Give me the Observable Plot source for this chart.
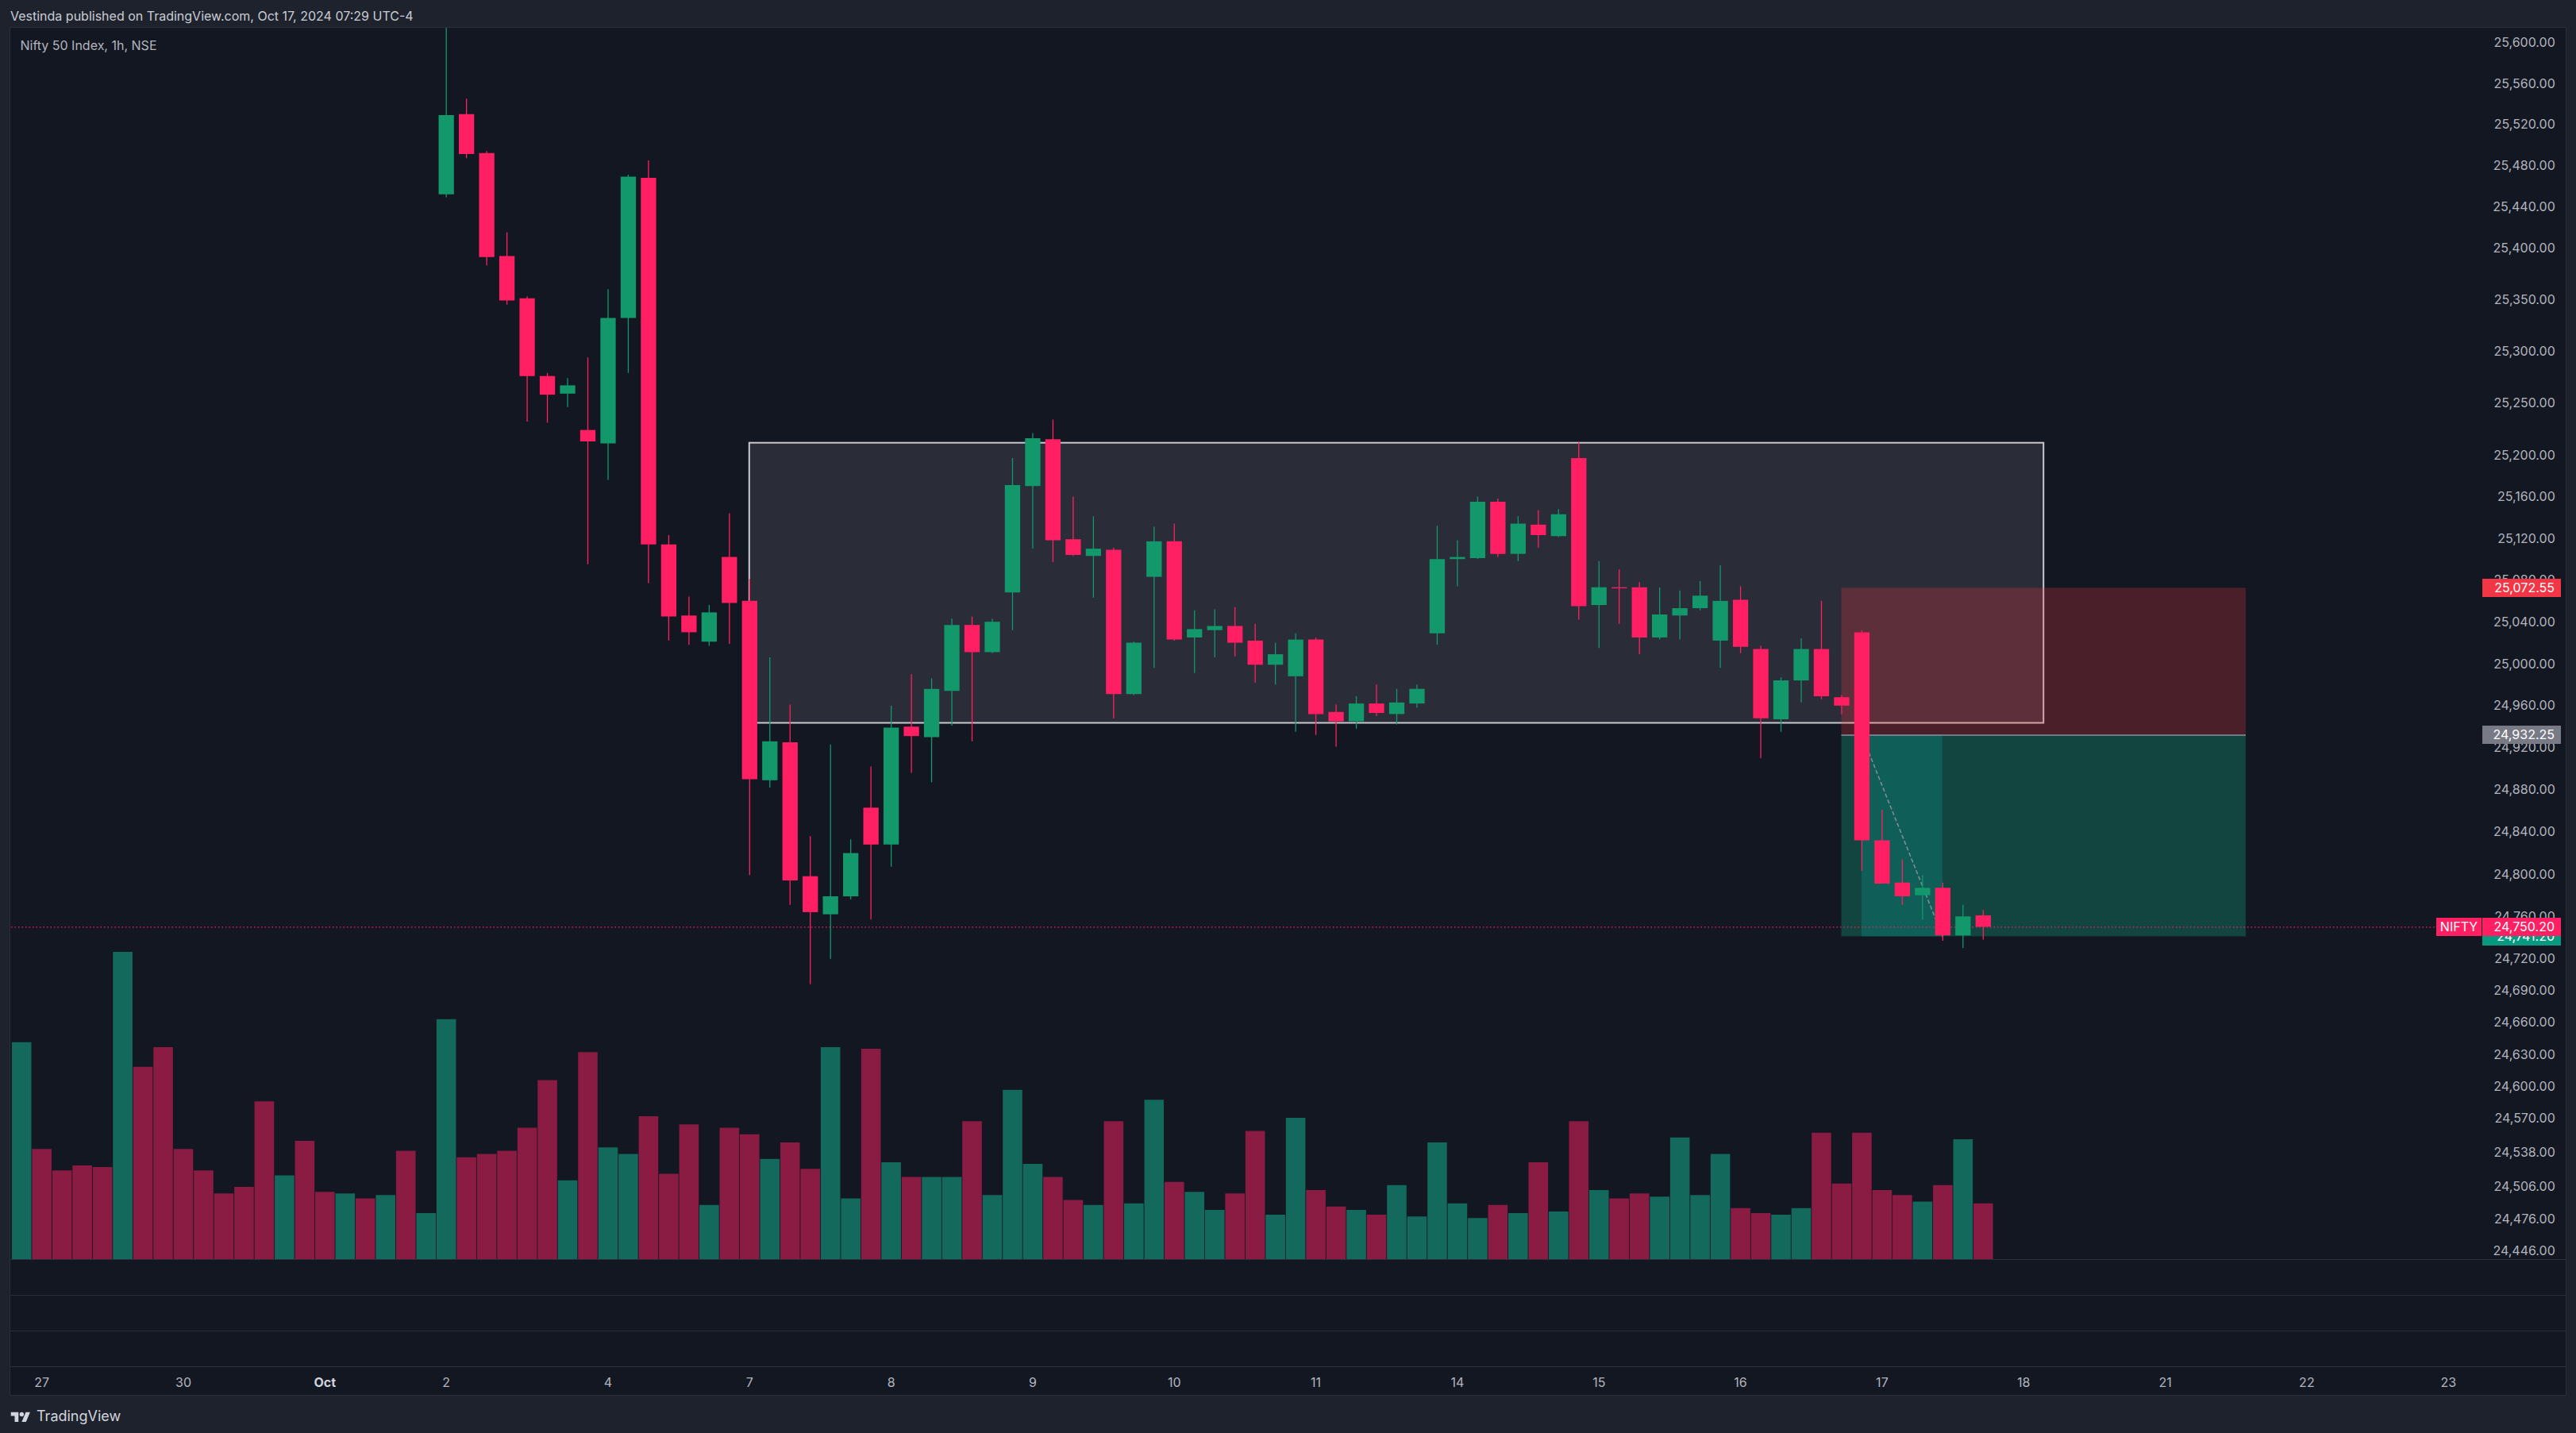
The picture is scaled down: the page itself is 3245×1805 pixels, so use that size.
<!DOCTYPE html>
<html>
<head>
<meta charset="utf-8">
<script src="https://cdn.jsdelivr.net/npm/d3@7"></script>
<script src="https://cdn.jsdelivr.net/npm/@observablehq/plot@0.6"></script>
<style>
  html, body { margin: 0; padding: 0; background: #1e222d; }
  #page { position: relative; width: 3245px; height: 1805px; overflow: hidden; background: #1e222d; font-family: Inter, Roboto, sans-serif; }
  #header { position: absolute; left: 13px; top: 10px; font-size: 16px; color: #c9ccd4; white-space: nowrap; }
  #pane { position: absolute; left: 12px; top: 34px; width: 3221px; height: 1724px; box-sizing: border-box; background: #131722; border: 1px solid #2a2e39; }
  .sep { position: absolute; left: 13px; width: 3219px; height: 1px; background: #2a2e39; }
  .layer { position: absolute; left: 0; top: 35px; }
  .badge { position: absolute; height: 23px; line-height: 23px; font-size: 16px; color: #ffffff; box-sizing: border-box; white-space: nowrap; }
  #footer { position: absolute; left: 13px; top: 1771px; height: 24px; display: flex; align-items: center; gap: 7px; color: #d1d4dc; font-size: 18px; }
</style>
</head>
<body>
<div id="page">
  <div id="header">Vestinda published on TradingView.com, Oct 17, 2024 07:29 UTC-4</div>
  <div id="pane"></div>
  <div class="sep" style="top:1586px"></div>
  <div class="sep" style="top:1631px"></div>
  <div class="sep" style="top:1676px"></div>
  <div class="sep" style="top:1721px"></div>
  <div id="volLayer" class="layer"></div>
  <div id="priceLayer" class="layer"></div>
  <div id="footer">
    <svg width="26" height="15" viewBox="0 0 36 22"><path d="M14 22H7V11H0V4h14v18zM28 22h-8l7.5-18h8L28 22z" fill="#d1d4dc"/><circle cx="20" cy="8" r="4" fill="#d1d4dc"/></svg>
    <span>TradingView</span>
  </div>
</div>
<script>
// ---------- data ----------
const chartTitle = "Nifty 50 Index, 1h, NSE";
const firstCandleBar = 21; // bars 0..20 are above the visible price range
const opens  = [25452,25530,25492,25392,25351,25276,25259,25224,25211,25332,25468,25114,25046,25021,25102,25060,24889,24925,24798,24762,24779,24863,24828,24940,24930,24974,25037,25011,25068,25170,25215,25119,25103,25109,24971,25083,25117,25025,25032,25036,25022,24999,24988,25023,24954,24945,24962,24952,24962,25029,25100,25101,25155,25105,25133,25122,25197,25056,25073,25073,25025,25046,25053,25022,25061,25014,24947,24984,25014,24968,25030,24832,24792,24780,24787,24742,24761];
const highs  = [25640,25545,25494,25415,25353,25279,25274,25294,25360,25471,25485,25123,25064,25056,25144,25081,25006,24961,24836,24923,24833,24902,24960,24990,24986,25043,25045,25043,25197,25221,25234,25160,25141,25111,25021,25131,25134,25051,25052,25054,25038,25020,25029,25025,24961,24969,24980,24976,24980,25132,25118,25160,25158,25141,25147,25148,25212,25098,25090,25078,25073,25070,25079,25094,25074,25017,24987,25024,25060,24970,25032,24861,24814,24799,24792,24771,24766];
const lows   = [25449,25487,25383,25345,25232,25231,25246,25095,25176,25279,25077,25022,25018,25017,25019,24799,24882,24771,24696,24720,24776,24757,24807,24896,24887,24941,24926,25010,25032,25110,25097,25103,25063,24948,24970,24996,25022,24991,25006,25007,24982,24980,24935,24932,24921,24938,24950,24942,24958,25018,25074,25100,25102,25098,25111,25121,25042,25015,25038,25009,25023,25023,25051,24996,25010,24910,24935,24963,24966,24952,24803,24791,24771,24757,24737,24730,24738];
const closes = [25529,25491,25391,25349,25276,25258,25267,25213,25332,25469,25114,25045,25030,25049,25058,24890,24926,24794,24764,24779,24820,24828,24939,24931,24976,25037,25011,25040,25171,25216,25118,25104,25110,24971,25020,25117,25023,25033,25036,25020,24999,25009,25023,24952,24945,24962,24953,24963,24976,25100,25102,25155,25105,25134,25123,25143,25055,25073,25072,25025,25047,25053,25065,25060,25016,24948,24984,25014,24969,24960,24832,24791,24779,24787,24742,24760,24750.2];
// volume of every bar 0..97 (relative units)
const volumes = [132,67,54,57,56,187,117,129,67,54,40,44,96,51,72,41,40,37,39,66,28,146,62,64,66,80,109,48,126,68,64,87,52,82,33,80,76,61,71,55,129,37,128,59,50,50,50,84,39,103,58,50,36,33,84,34,97,47,41,30,40,78,27,86,42,32,30,27,45,26,71,34,25,33,28,59,29,84,42,37,40,38,74,39,64,31,28,27,31,77,46,77,42,39,35,45,73,34];
const earlyVolumeUp = [1,0,0,0,0,1,0,0,0,0,0,0,0,1,0,0,1,0,1,0,1]; // bars 0..20
const priceTicks = [25600,25560,25520,25480,25440,25400,25350,25300,25250,25200,25160,25120,25080,25040,25000,24960,24920,24880,24840,24800,24760,24720,24690,24660,24630,24600,24570,24538,24506,24476,24446];
const dateTickBars   = [1,8,15,21,29,36,43,50,57,64,71,78,85,92,99,106,113,120];
const dateTickLabels = ["27","30","Oct","2","4","7","8","9","10","11","14","15","16","17","18","21","22","23"];
const monthLabels = ["Oct"];
const rangeBox = {x1: 36, x2: 100, top: 25211.7, bottom: 24943.6};
const shortPosition = {x1: 90, x2: 110, entry: 24932.25, stop: 25072.55, target: 24741.20, hitFrom: 91, hitTo: 95};
const lastPrice = 24750.20;
const symbol = "NIFTY";

// ---------- style ----------
const UP = "#12986a", DOWN = "#ff1f62", UPV = "#13695b", DOWNV = "#8a1b43";
const W = 3245, H = 1722;
const fmt = d3.format(",.2f");

const candles = opens.map((o, k) => ({i: firstCandleBar + k, open: o, high: highs[k], low: lows[k], close: closes[k]}));
const vol = volumes.map((v, i) => ({
  i, v,
  up: i < firstCandleBar ? earlyVolumeUp[i] === 1 : closes[i - firstCandleBar] >= opens[i - firstCandleBar]
}));

const common = {
  width: W, height: H,
  marginLeft: 13.96, marginRight: 110.35, marginTop: 0, marginBottom: 171,
  x: {type: "linear", domain: [-0.5, 122], axis: null},
  color: {type: "identity"},
  style: {background: "transparent", overflow: "visible"}
};

const volPlot = Plot.plot({
  ...common,
  y: {type: "linear", domain: [0, 749.4], axis: null},
  marks: [
    Plot.ruleX(vol, {x: "i", y1: 0, y2: "v", stroke: d => d.up ? UPV : DOWNV, strokeWidth: 24.6})
  ]
});
document.getElementById("volLayer").appendChild(volPlot);

const candleColor = d => d.close >= d.open ? UP : DOWN;
const pricePlot = Plot.plot({
  ...common,
  y: {type: "log", domain: [24438.2, 25614.2], axis: null},
  marks: [
    Plot.rect([rangeBox], {x1: "x1", x2: "x2", y1: "bottom", y2: "top", fill: "#2a2c38"}),
    Plot.rect([rangeBox], {x1: "x1", x2: "x2", y1: "bottom", y2: "top", fill: "none", stroke: "#c9cad0", strokeWidth: 2}),
    Plot.rect([shortPosition], {x1: "x1", x2: "x2", y1: "entry", y2: "stop", fill: "rgba(242,54,69,0.25)"}),
    Plot.rect([shortPosition], {x1: "x1", x2: "x2", y1: "target", y2: "entry", fill: "#124540"}),
    Plot.rect([shortPosition], {x1: "hitFrom", x2: "hitTo", y1: "target", y2: "entry", fill: "#0f5e57"}),
    Plot.ruleY([shortPosition], {y: "entry", x1: "x1", x2: "x2", stroke: "#8e919a", strokeWidth: 1.5}),
    Plot.line([{x: shortPosition.hitFrom, y: shortPosition.entry}, {x: shortPosition.hitTo, y: shortPosition.target}],
      {x: "x", y: "y", stroke: "#8a8d96", strokeWidth: 1.5, strokeDasharray: "4,4"}),
    Plot.ruleY([lastPrice], {stroke: DOWN, strokeWidth: 1.2, strokeDasharray: "1.5,3"}),
    Plot.ruleX(candles, {x: "i", y1: "low", y2: "high", stroke: candleColor, strokeWidth: 1.3, clip: true}),
    Plot.ruleX(candles, {x: "i", y1: "open", y2: "close", stroke: candleColor, strokeWidth: 19.3, clip: true}),
    Plot.text(priceTicks, {y: d => d, text: d => fmt(d), frameAnchor: "right", textAnchor: "end", dx: 83.6,
      fill: "#b2b5be", fontSize: 16, fontFamily: "Inter, Roboto, sans-serif"}),
    Plot.text(dateTickBars.map((b, k) => ({b, t: dateTickLabels[k]})).filter(d => !monthLabels.includes(d.t)),
      {x: "b", text: "t", frameAnchor: "bottom", dy: 155, lineAnchor: "middle", fill: "#b2b5be", fontSize: 16, fontFamily: "Inter, Roboto, sans-serif"}),
    Plot.text(dateTickBars.map((b, k) => ({b, t: dateTickLabels[k]})).filter(d => monthLabels.includes(d.t)),
      {x: "b", text: "t", frameAnchor: "bottom", dy: 155, lineAnchor: "middle", fill: "#d1d4dc", fontWeight: 700, fontSize: 16, fontFamily: "Inter, Roboto, sans-serif"}),
    Plot.text([chartTitle], {frameAnchor: "top-left", dx: 11, dy: 22, lineAnchor: "middle", text: d => d,
      fill: "#b2b5be", fontSize: 16, fontFamily: "Inter, Roboto, sans-serif"})
  ]
});
document.getElementById("priceLayer").appendChild(pricePlot);

// price-scale badges positioned with the plot's own y scale
const ys = pricePlot.scale("y");
const page = document.getElementById("page");
function badge(text, price, left, width, bg, align) {
  const d = document.createElement("div");
  d.className = "badge";
  d.textContent = text;
  d.style.left = left + "px";
  d.style.width = width + "px";
  d.style.top = (35 + ys.apply(price) - 11.5) + "px";
  d.style.background = bg;
  d.style.textAlign = align;
  if (align === "right") d.style.paddingRight = "8px";
  page.appendChild(d);
}
badge(fmt(shortPosition.stop), shortPosition.stop, 3127, 99, "#f23645", "right");
badge(fmt(shortPosition.entry), shortPosition.entry, 3127, 99, "#787b86", "right");
badge(fmt(shortPosition.target), shortPosition.target, 3127, 99, "#089981", "right");
badge(symbol, lastPrice, 3069, 57, DOWN, "center");
badge(fmt(lastPrice), lastPrice, 3127, 99, DOWN, "right");
</script>
</body>
</html>
